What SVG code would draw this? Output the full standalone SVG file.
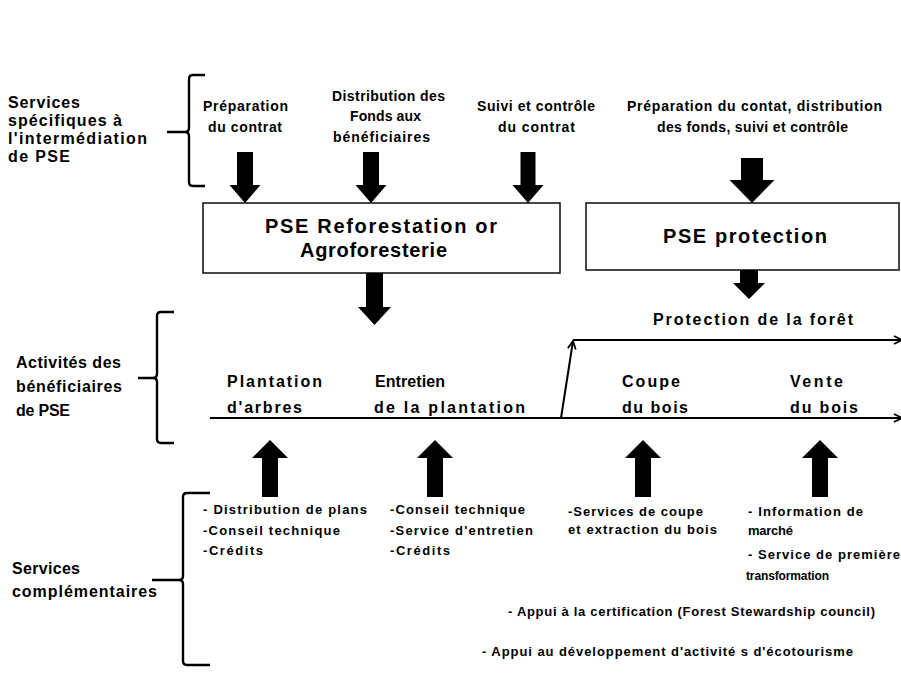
<svg xmlns="http://www.w3.org/2000/svg" width="901" height="686" viewBox="0 0 901 686">
<style>
text{font-family:"Liberation Sans",Arial,sans-serif;font-weight:bold;fill:#000}
.s12{font-size:12px}
.s13{font-size:13px}
.s14{font-size:14px}
.s16{font-size:16px}
.s20{font-size:20px}
.box{fill:#fff;stroke:#1a1a1a;stroke-width:1.6}
.brace{fill:none;stroke:#000;stroke-width:2.4;stroke-linejoin:round}
.blk{fill:#000}
.ln{fill:none;stroke:#000;stroke-width:2}
</style>
<defs>
<marker id="open" viewBox="0 0 10 10" refX="9" refY="5" markerWidth="10" markerHeight="10" markerUnits="userSpaceOnUse" orient="auto">
<path d="M1,1 L9,5 L1,9" fill="none" stroke="#000" stroke-width="1.8"/>
</marker>
</defs>
<rect width="901" height="686" fill="#fff"/>

<g id="label-intermediation">
<text class="s16" x="8" y="108" textLength="72" lengthAdjust="spacing">Services</text>
<text class="s16" x="8" y="126" textLength="114" lengthAdjust="spacing">spécifiques à</text>
<text class="s16" x="8" y="144" textLength="139" lengthAdjust="spacing">l'intermédiation</text>
<text class="s16" x="8" y="162" textLength="62" lengthAdjust="spacing">de PSE</text>
<path class="brace" d="M205,75 L193,75 Q189,75 189,79 L189,128 Q189,132 185,132 L167,132 M185,132 Q189,132 189,136 L189,182 Q189,186 193,186 L205,186"/>
</g>

<g id="svc-preparation">
<text class="s14" x="203" y="111" textLength="85" lengthAdjust="spacing">Préparation</text>
<text class="s14" x="208" y="132" textLength="74" lengthAdjust="spacing">du contrat</text>
</g>
<g id="svc-distribution">
<text class="s14" x="332" y="101" textLength="113" lengthAdjust="spacing">Distribution des</text>
<text class="s14" x="350" y="121" textLength="71" lengthAdjust="spacing">Fonds aux</text>
<text class="s14" x="333" y="142" textLength="97" lengthAdjust="spacing">bénéficiaires</text>
</g>
<g id="svc-suivi">
<text class="s14" x="477" y="111" textLength="118" lengthAdjust="spacing">Suivi et contrôle</text>
<text class="s14" x="498" y="132" textLength="77" lengthAdjust="spacing">du contrat</text>
</g>
<g id="svc-protection">
<text class="s14" x="627" y="111" textLength="255" lengthAdjust="spacing">Préparation du contat, distribution</text>
<text class="s14" x="657" y="132" textLength="191" lengthAdjust="spacing">des fonds, suivi et contrôle</text>
</g>

<g id="box-reforestation">
<rect class="box" x="203" y="203" width="357" height="70"/>
<text class="s20" x="265" y="233" textLength="232" lengthAdjust="spacing">PSE Reforestation  or</text>
<text class="s20" x="300" y="257" textLength="147" lengthAdjust="spacing">Agroforesterie</text>
</g>
<g id="box-protection">
<rect class="box" x="586" y="203" width="313" height="67"/>
<text class="s20" x="663" y="243" textLength="164" lengthAdjust="spacing">PSE protection</text>
</g>

<g id="label-protection-foret">
<text class="s16" x="653" y="325" textLength="200" lengthAdjust="spacing">Protection de la forêt</text>
</g>

<g id="label-activites">
<text class="s16" x="16" y="368" textLength="105" lengthAdjust="spacing">Activités des</text>
<text class="s16" x="16" y="392" textLength="106" lengthAdjust="spacing">bénéficiaires</text>
<text class="s16" x="16" y="416" textLength="54" lengthAdjust="spacing">de PSE</text>
<path class="brace" d="M174,312 L161,312 Q157,312 157,316 L157,374 Q157,378 153,378 L138,378 M153,378 Q157,378 157,382 L157,439 Q157,443 161,443 L174,443"/>
</g>

<g id="act-plantation">
<text class="s16" x="227" y="387" textLength="95" lengthAdjust="spacing">Plantation</text>
<text class="s16" x="227" y="413" textLength="75" lengthAdjust="spacing">d'arbres</text>
</g>
<g id="act-entretien">
<text class="s16" x="375" y="387" textLength="70" lengthAdjust="spacing">Entretien</text>
<text class="s16" x="374" y="413" textLength="151" lengthAdjust="spacing">de la plantation</text>
</g>
<g id="act-coupe">
<text class="s16" x="622" y="387" textLength="58" lengthAdjust="spacing">Coupe</text>
<text class="s16" x="622" y="413" textLength="66" lengthAdjust="spacing">du bois</text>
</g>
<g id="act-vente">
<text class="s16" x="790" y="387" textLength="53" lengthAdjust="spacing">Vente</text>
<text class="s16" x="790" y="413" textLength="68" lengthAdjust="spacing">du bois</text>
</g>

<g id="label-complementaires">
<text class="s16" x="12" y="574" textLength="68" lengthAdjust="spacing">Services</text>
<text class="s16" x="12" y="597" textLength="145" lengthAdjust="spacing">complémentaires</text>
<path class="brace" d="M210,493 L187,493 Q183,493 183,497 L183,576 Q183,580 179,580 L152,580 M179,580 Q183,580 183,584 L183,661 Q183,665 187,665 L210,665"/>
</g>

<g id="comp-plantation">
<text class="s13" x="203" y="514" textLength="164" lengthAdjust="spacing">- Distribution de plans</text>
<text class="s13" x="203" y="535" textLength="137" lengthAdjust="spacing">-Conseil technique</text>
<text class="s13" x="203" y="555" textLength="60" lengthAdjust="spacing">-Crédits</text>
</g>
<g id="comp-entretien">
<text class="s13" x="390" y="514" textLength="135" lengthAdjust="spacing">-Conseil technique</text>
<text class="s13" x="390" y="535" textLength="143" lengthAdjust="spacing">-Service d'entretien</text>
<text class="s13" x="390" y="555" textLength="60" lengthAdjust="spacing">-Crédits</text>
</g>
<g id="comp-coupe">
<text class="s13" x="568" y="516" textLength="135" lengthAdjust="spacing">-Services de coupe</text>
<text class="s13" x="568" y="534" textLength="149" lengthAdjust="spacing">et extraction du bois</text>
</g>
<g id="comp-vente">
<text class="s13" x="748" y="516" textLength="115" lengthAdjust="spacing">- Information de</text>
<text class="s13" x="748" y="535" textLength="45" lengthAdjust="spacing">marché</text>
<text class="s13" x="748" y="559" textLength="152" lengthAdjust="spacing">- Service de première</text>
<text class="s12" x="746" y="580" textLength="83" lengthAdjust="spacing">transformation</text>
</g>
<g id="comp-certification">
<text class="s13" x="508" y="616" textLength="367" lengthAdjust="spacing">- Appui à la certification (Forest Stewardship council)</text>
</g>
<g id="comp-ecotourisme">
<text class="s13" x="482" y="656" textLength="371" lengthAdjust="spacing">- Appui au développement d'activité s d'écotourisme</text>
</g>

<g id="connectors">
<path class="blk" d="M237,152 H253 V185 H260.5 L245,203 L229.5,185 H237 Z"/>
<path class="blk" d="M363,152 H379 V185 H386.5 L371,203 L355.5,185 H363 Z"/>
<path class="blk" d="M520.5,152 H535.5 V185 H543.5 L528,203 L512.5,185 H520.5 Z"/>
<path class="blk" d="M741,158 H763 V180 H774.5 L752,203 L729.5,180 H741 Z"/>
<path class="blk" d="M366,273 H383 V307 H391 L374.5,325 L358,307 H366 Z"/>
<path class="blk" d="M740,270 H758 V283 H765 L749,299 L733,283 H740 Z"/>
<path class="blk" d="M262,497 H278 V458 H288 L270,440 L252,458 H262 Z"/>
<path class="blk" d="M427,497 H443 V458 H453 L435,440 L417,458 H427 Z"/>
<path class="blk" d="M635,497 H651 V458 H661 L643,440 L625,458 H635 Z"/>
<path class="blk" d="M812,497 H828 V458 H838 L820,440 L802,458 H812 Z"/>
<line class="ln" x1="210" y1="418" x2="902" y2="418" marker-end="url(#open)"/>
<line class="ln" x1="561" y1="418" x2="573" y2="341" marker-end="url(#open)"/>
<line class="ln" x1="573" y1="340" x2="902" y2="340" marker-end="url(#open)"/>
</g>
</svg>
